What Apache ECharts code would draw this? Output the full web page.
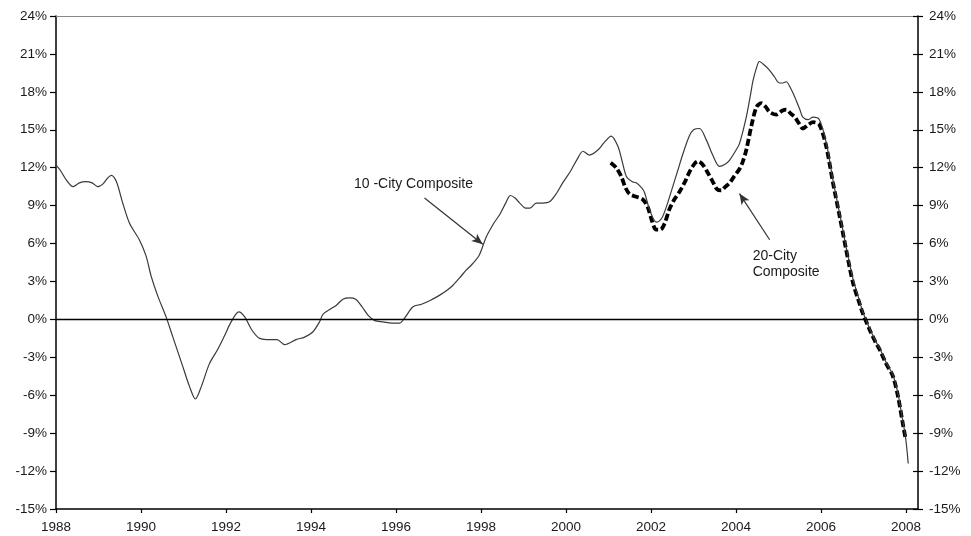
<!DOCTYPE html>
<html>
<head>
<meta charset="utf-8">
<script src="https://cdn.jsdelivr.net/npm/echarts@6/dist/echarts.min.js"></script>
<style>
  html, body { margin: 0; padding: 0; background: #fff; }
  #chart { width: 971px; height: 536px; }
</style>
</head>
<body>
<div id="chart"></div>
<script>
// 10-City Composite, year-over-year change (%)
const tenCityDates = [
  1988.0, 1988.1, 1988.25, 1988.4, 1988.55, 1988.7, 1988.85, 1988.98, 1989.1, 1989.22,
  1989.3, 1989.42, 1989.57, 1989.73, 1989.96, 1990.12, 1990.24, 1990.4, 1990.59, 1990.75,
  1990.98, 1991.14, 1991.28, 1991.42, 1991.61, 1991.8, 1991.95, 1992.12, 1992.3, 1992.44,
  1992.6, 1992.79, 1993.06, 1993.2, 1993.38, 1993.65, 1993.85, 1994.04, 1994.2, 1994.28,
  1994.45, 1994.59, 1994.75, 1994.91, 1995.05, 1995.2, 1995.35, 1995.5, 1995.7, 1995.9,
  1996.08, 1996.2, 1996.4, 1996.6, 1996.8, 1997.02, 1997.2, 1997.34, 1997.5, 1997.65,
  1997.8, 1997.96, 1998.12, 1998.3, 1998.44, 1998.58, 1998.69, 1998.8, 1998.91, 1999.05,
  1999.15, 1999.3, 1999.45, 1999.61, 1999.78, 1999.92, 2000.1, 2000.25, 2000.4, 2000.55,
  2000.75, 2000.9, 2001.06, 2001.22, 2001.32, 2001.42, 2001.55, 2001.65, 2001.78, 2001.85,
  2001.96, 2002.08, 2002.14, 2002.25, 2002.35, 2002.51, 2002.63, 2002.75, 2002.9, 2003.0,
  2003.14, 2003.3, 2003.45, 2003.61, 2003.75, 2003.85, 2004.0, 2004.08, 2004.24, 2004.33,
  2004.4, 2004.48, 2004.55, 2004.67, 2004.79, 2004.9, 2005.02, 2005.1, 2005.18, 2005.28,
  2005.38, 2005.5, 2005.57, 2005.7, 2005.81, 2005.96, 2006.12, 2006.28, 2006.44, 2006.59,
  2006.75, 2006.9, 2006.98, 2007.14, 2007.28, 2007.38, 2007.53, 2007.69, 2007.81, 2007.91,
  2007.99, 2008.05
];
const tenCityValues = [
  12.2, 11.8, 11.0, 10.5, 10.8, 10.9, 10.8, 10.5, 10.7, 11.2,
  11.4, 10.9, 9.2, 7.6, 6.3, 5.0, 3.4, 1.8, 0.2, -1.4,
  -3.7, -5.3, -6.3, -5.3, -3.5, -2.4, -1.4, -0.2, 0.6, 0.2,
  -0.8, -1.5, -1.6, -1.6, -2.0, -1.6, -1.4, -1.0, -0.2, 0.4,
  0.8, 1.1, 1.6, 1.7, 1.6, 1.0, 0.3, -0.1, -0.2, -0.3,
  -0.3, 0.1, 1.0, 1.2, 1.5, 1.9, 2.3, 2.7, 3.3, 3.9,
  4.4, 5.1, 6.5, 7.6, 8.3, 9.2, 9.8, 9.6, 9.2, 8.8,
  8.8, 9.2, 9.2, 9.3, 10.0, 10.8, 11.7, 12.6, 13.3, 13.0,
  13.4, 14.0, 14.5, 13.7, 12.5, 11.3, 10.9, 10.8, 10.4, 10.0,
  8.7, 7.8, 7.7, 8.0, 8.8, 10.5, 11.8, 13.1, 14.5, 15.0,
  15.1, 14.2, 13.0, 12.1, 12.3, 12.6, 13.4, 13.9, 16.0, 17.6,
  18.9, 19.9, 20.4, 20.1, 19.7, 19.2, 18.7, 18.7, 18.8, 18.3,
  17.6, 16.6, 16.0, 15.8, 16.0, 15.8, 14.0, 11.0, 8.3, 5.7,
  3.2, 1.5, 0.6, -0.7, -1.7, -2.3, -3.4, -4.4, -5.9, -7.8,
  -9.4, -11.4
];

// 20-City Composite
const twentyCityDates = [
  2001.05, 2001.18, 2001.3, 2001.4, 2001.5, 2001.65, 2001.8, 2001.92, 2002.02, 2002.12,
  2002.22, 2002.32, 2002.43, 2002.55, 2002.67, 2002.8, 2002.91, 2003.02, 2003.1, 2003.2,
  2003.3, 2003.45, 2003.55, 2003.65, 2003.75, 2003.85, 2003.95, 2004.08, 2004.16, 2004.24,
  2004.36, 2004.48, 2004.59, 2004.7, 2004.79, 2004.95, 2005.08, 2005.18, 2005.28, 2005.38,
  2005.48, 2005.57, 2005.7, 2005.81, 2005.96, 2006.12, 2006.28, 2006.44, 2006.59, 2006.75,
  2006.9, 2006.98, 2007.14, 2007.28, 2007.38, 2007.53, 2007.69, 2007.81, 2007.91, 2007.99
];
const twentyCityValues = [
  12.4, 12.0, 11.3, 10.4, 9.9, 9.7, 9.5, 8.9, 7.8, 7.1,
  7.1, 7.6, 8.7, 9.5, 10.1, 10.9, 11.7, 12.3, 12.5, 12.3,
  11.8, 10.9, 10.3, 10.2, 10.5, 10.8, 11.3, 11.9, 12.5, 13.4,
  15.3, 16.8, 17.1, 16.8, 16.4, 16.2, 16.5, 16.6, 16.3, 16.0,
  15.5, 15.1, 15.4, 15.6, 15.4, 13.7, 10.8, 8.1, 5.5, 2.9,
  1.3, 0.5, -0.8, -1.8, -2.4, -3.5, -4.5, -6.1, -8.0, -9.5
];

const yearTicks = [1988, 1990, 1992, 1994, 1996, 1998, 2000, 2002, 2004, 2006, 2008];

const FONT = '"Liberation Sans", Arial, sans-serif';
const Y_MIN = -15;
const Y_MAX = 24;
const X_MIN = 1988;
const X_MAX = 2008.28;

const pairs = (xs, ys) => xs.map((x, i) => [x, ys[i]]);

const tickLabel = { color: '#1a1a1a', fontSize: 13.5, fontFamily: FONT };

const chart = echarts.init(document.getElementById('chart'), null, { renderer: 'canvas' });

chart.setOption({
  animation: false,
  backgroundColor: '#fff',
  grid: { left: 56, right: 53, top: 16, bottom: 27, containLabel: false },
  xAxis: [
    {
      type: 'value',
      min: X_MIN,
      max: X_MAX,
      splitLine: { show: false },
      axisLine: { show: true, onZero: false, lineStyle: { color: '#000', width: 1.5 } },
      axisTick: { show: true, length: 4, customValues: yearTicks, lineStyle: { color: '#000', width: 1.2 } },
      axisLabel: { ...tickLabel, margin: 11, customValues: yearTicks, formatter: (v) => String(Math.round(v)) },
    },
    {
      type: 'value',
      position: 'top',
      min: X_MIN,
      max: X_MAX,
      splitLine: { show: false },
      axisLine: { show: true, onZero: false, lineStyle: { color: '#888', width: 1 } },
      axisTick: { show: false },
      axisLabel: { show: false },
    },
  ],
  yAxis: [
    {
      type: 'value',
      position: 'left',
      min: Y_MIN,
      max: Y_MAX,
      interval: 3,
      splitLine: { show: false },
      axisLine: { show: true, onZero: false, lineStyle: { color: '#000', width: 1.5 } },
      axisTick: { show: true, length: 6, lineStyle: { color: '#000', width: 1.2 } },
      axisLabel: { ...tickLabel, margin: 9, formatter: (v) => v + '%' },
    },
    {
      type: 'value',
      position: 'right',
      min: Y_MIN,
      max: Y_MAX,
      interval: 3,
      splitLine: { show: false },
      axisLine: { show: true, onZero: false, lineStyle: { color: '#000', width: 1.5 } },
      axisTick: { show: true, length: 5, lineStyle: { color: '#000', width: 1.2 } },
      axisLabel: { ...tickLabel, margin: 11, formatter: (v) => v + '%' },
    },
    {
      // inward half of the crossing ticks on the right axis
      type: 'value',
      position: 'right',
      min: Y_MIN,
      max: Y_MAX,
      interval: 3,
      splitLine: { show: false },
      axisLine: { show: false },
      axisTick: { show: true, inside: true, length: 5, lineStyle: { color: '#000', width: 1.2 } },
      axisLabel: { show: false },
    },
  ],
  series: [
    {
      name: '10-City Composite',
      type: 'line',
      data: pairs(tenCityDates, tenCityValues),
      showSymbol: false,
      smooth: 0.3,
      lineStyle: { color: '#3a3a3a', width: 1.2 },
      z: 3,
      markLine: {
        silent: true,
        animation: false,
        symbol: ['none', 'none'],
        label: { show: false },
        data: [
          { yAxis: 0, lineStyle: { color: '#000', width: 1.3, type: 'solid' } },
          [
            { coord: [1996.67, 9.6], symbol: 'none', lineStyle: { color: '#333', width: 1.2, type: 'solid' } },
            { coord: [1998.04, 5.95], symbol: 'arrow', symbolSize: [7, 11] },
          ],
          [
            { coord: [2004.79, 6.3], symbol: 'none', lineStyle: { color: '#333', width: 1.2, type: 'solid' } },
            { coord: [2004.08, 9.95], symbol: 'arrow', symbolSize: [7, 11] },
          ],
        ],
      },
      markPoint: {
        silent: true,
        animation: false,
        symbol: 'circle',
        symbolSize: 0,
        data: [
          {
            coord: [1996.41, 10.72],
            label: { show: true, position: 'inside', formatter: '10 -City Composite', color: '#1a1a1a', fontSize: 14, fontFamily: FONT },
          },
          {
            coord: [2004.39, 4.39],
            label: {
              show: true, position: 'right', distance: 0, align: 'left', lineHeight: 16,
              formatter: '20-City\nComposite', color: '#1a1a1a', fontSize: 14, fontFamily: FONT,
            },
          },
        ],
      },
    },
    {
      name: '20-City Composite',
      type: 'line',
      data: pairs(twentyCityDates, twentyCityValues),
      showSymbol: false,
      smooth: 0.3,
      lineStyle: { color: '#000', width: 3.8, type: [7, 3], cap: 'butt' },
      z: 2,
    },
  ],
});
</script>
</body>
</html>
